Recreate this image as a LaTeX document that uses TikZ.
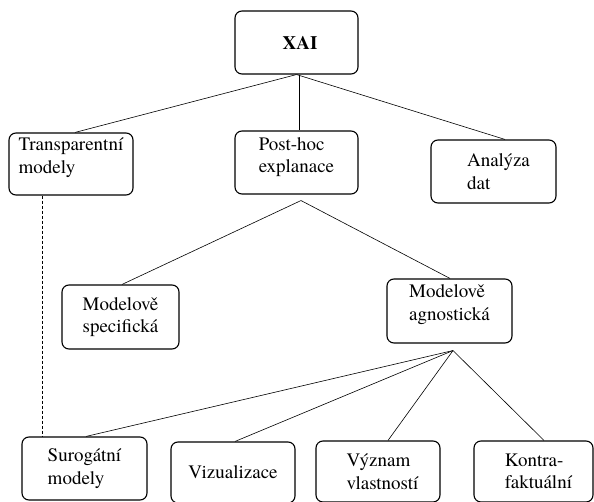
\documentclass[tikz,border=0pt]{standalone}
\usepackage{fontspec}
\setmainfont{texgyretermes}[Extension=.otf, UprightFont=*-regular, BoldFont=*-bold, ItalicFont=*-italic, BoldItalicFont=*-bolditalic]
\usetikzlibrary{calc}
\begin{document}
\begin{tikzpicture}[x=1pt,y=-1pt,
  box/.style={draw, line width=1.1pt, rounded corners=7pt, align=left, inner sep=0pt,
    font=\fontsize{19}{22.5}\selectfont},
  conn/.style={line width=0.6pt},
  dashconn/.style={line width=0.6pt, dash pattern=on 3pt off 2pt}]
\useasboundingbox (0,0) rectangle (594,502);
\node[box, minimum width=123pt, minimum height=63pt, font=\fontsize{19}{22.5}\selectfont\bfseries] (xai) at (296.5,42.5) {\hspace*{7pt}XAI};
\node[box, minimum width=124pt, minimum height=62pt] (trans) at (71,164) {Transparentní\\modely\\[-6pt]\mbox{}};
\node[box, minimum width=123pt, minimum height=63pt] (posthoc) at (296.5,162.5) {Post-hoc\\explanace\\[-8pt]\mbox{}};
\node[box, minimum width=125pt, minimum height=63pt] (analyza) at (493.5,171.5) {\hspace*{10pt}Analýza\\\hspace*{10pt}dat};
\node[box, minimum width=117pt, minimum height=64pt] (spec) at (120.5,317) {Modelově\\specifická};
\node[box, minimum width=125pt, minimum height=64pt] (agn) at (449.5,311) {Modelově\\agnostická\\[-6pt]\mbox{}};
\node[box, minimum width=125pt, minimum height=63pt] (surog) at (84.5,468.5) {Surogátní\\modely};
\node[box, minimum width=124pt, minimum height=61pt] (viz) at (233,472.5) {Vizualizace};
\node[box, minimum width=124pt, minimum height=61pt] (vyz) at (378,471.5) {\hspace*{9pt}Význam\\\hspace*{9pt}vlastností};
\node[box, minimum width=119pt, minimum height=61pt] (kontra) at (533.5,471.5) {\hspace*{10pt}Kontra-\\\hspace*{10pt}faktuální};
\coordinate (phapex) at ($(posthoc.south)+(4.5,6)$);
\coordinate (agapex) at ($(agn.south)+(3.5,7)$);
\draw[conn] (xai.south) -- ([xshift=4pt]trans.north);
\draw[conn] ([xshift=2.5pt]xai.south) -- ([xshift=2.5pt]posthoc.north);
\draw[conn] (xai.south) -- ([xshift=11.5pt]analyza.north);
\draw[conn] (phapex) -- ([xshift=1.5pt]spec.north);
\draw[conn] (phapex) -- ([xshift=0.5pt]agn.north);
\draw[conn] (agapex) -- ([xshift=1.5pt]surog.north);
\draw[conn] (agapex) -- ([xshift=2pt]viz.north);
\draw[conn] (agapex) -- ([xshift=10pt]vyz.north);
\draw[conn] (agapex) -- ([xshift=10.5pt]kontra.north);
\draw[dashconn] ([xshift=-28.5pt]trans.south) -- ([xshift=-28.5pt]trans.south |- surog.north);
\end{tikzpicture}
\end{document}
